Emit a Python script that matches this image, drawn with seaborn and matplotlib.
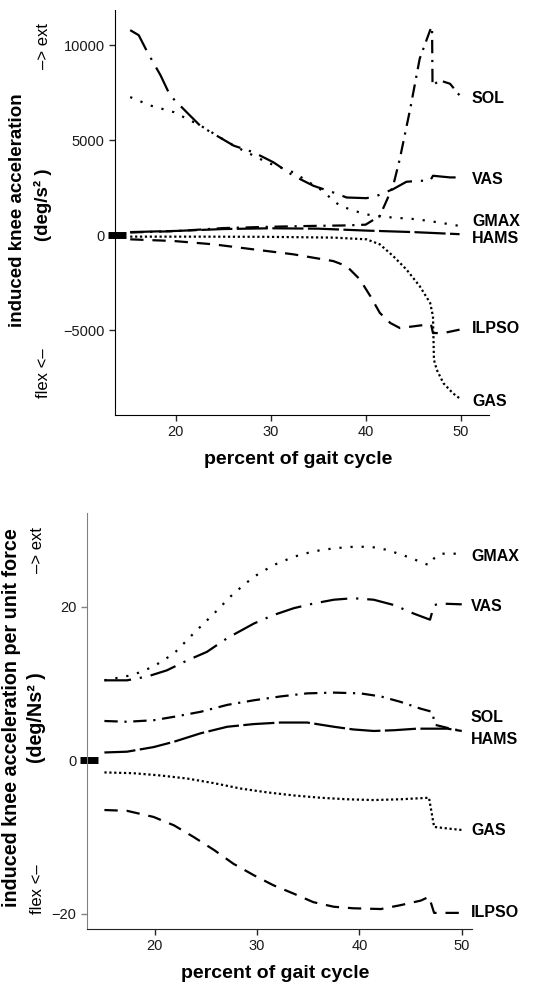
import matplotlib
matplotlib.use("Agg")
import matplotlib.pyplot as plt
import matplotlib.transforms as mtransforms
import seaborn as sns

# ---- data: induced knee acceleration (top) ----
muscles = ['SOL', 'VAS', 'GMAX', 'HAMS', 'ILPSO', 'GAS']

top_x = {
    'VAS': [15.2, 16.1, 17.0, 18.4, 19.4, 21.2, 22.6, 24.3, 26.1, 28.2, 30.3, 32.4, 34.5, 36.6,
            38.0, 40.1, 41.2, 42.9, 44.3, 45.7, 46.8, 47.1, 47.8, 48.9, 49.9],
    'GMAX': [15.2, 17.3, 19.8, 22.6, 26.1, 29.6, 32.4, 35.2, 37.3, 39.4, 40.8, 42.9, 45.4, 47.8, 49.9],
    'HAMS': [15.2, 20.0, 25.0, 30.0, 35.0, 40.0, 45.0, 49.9],
    'SOL': [15.2, 20.0, 25.0, 30.0, 35.0, 38.0, 40.0, 41.5, 42.9, 43.6, 44.7, 45.7, 46.8, 47.0,
            47.05, 47.8, 48.9, 49.9],
    'ILPSO': [15.2, 19.8, 24.0, 28.2, 32.4, 36.6, 38.0, 39.4, 40.5, 41.5, 42.6, 43.6, 45.0, 46.4,
              46.9, 47.1, 48.2, 49.9],
    'GAS': [15.2, 22.6, 29.6, 36.6, 40.1, 41.5, 42.9, 44.3, 45.7, 46.8, 47.1, 47.2, 47.5, 48.2,
            49.2, 49.9],
}
top_acc = {
    'VAS': [10790, 10525, 9645, 8413, 7357, 6450, 5750, 5245, 4717, 4365, 3837, 3133, 2605, 2253,
            1989, 1954, 2077, 2429, 2816, 2869, 2869, 3133, 3098, 3045, 3045],
    'GMAX': [7270, 6830, 6477, 5773, 4717, 3837, 3309, 2429, 1549, 1197, 1021, 933, 845, 669, 493],
    'HAMS': [170, 230, 330, 370, 350, 250, 170, 60],
    'SOL': [150, 220, 380, 450, 500, 520, 560, 1020, 2600, 4010, 6650, 9290, 10790, 10960,
            7880, 8150, 7970, 7360],
    'ILPSO': [-211, -300, -475, -740, -1000, -1355, -1620, -2320, -3200, -4080, -4610, -4875,
              -4790, -4700, -4700, -5140, -5140, -4960],
    'GAS': [-70, -70, -80, -120, -211, -475, -1090, -1795, -2675, -3555, -4260, -6547, -7075,
            -7780, -8307, -8570],
}
top_label_y = {'SOL': 7180, 'VAS': 2957, 'GMAX': 720, 'HAMS': -176, 'ILPSO': -4875, 'GAS': -8747}

# ---- data: induced knee acceleration per unit force (bottom) ----
bot_x = {
    'GMAX': [15.1, 17.9, 19.9, 21.9, 23.8, 25.8, 27.7, 29.7, 31.6, 33.6, 35.5, 37.5, 39.4, 41.1,
             42.7, 44.7, 46.8, 47.3, 47.9, 50.0],
    'VAS': [15.1, 17.3, 19.3, 21.2, 23.2, 25.1, 27.1, 29.7, 31.6, 33.6, 35.5, 37.5, 39.4, 41.4,
            43.4, 45.3, 46.9, 47.3, 47.9, 50.0],
    'SOL': [15.1, 17.3, 19.9, 21.9, 24.5, 27.1, 29.7, 32.3, 34.9, 37.5, 40.1, 42.1, 44.0, 46.0,
            47.1, 47.4, 48.6, 50.0],
    'HAMS': [15.1, 17.3, 19.9, 21.9, 24.5, 27.1, 29.7, 32.3, 34.9, 37.5, 39.4, 41.4, 43.4, 45.6,
             47.3, 48.6, 50.0],
    'GAS': [15.1, 17.9, 20.6, 23.2, 25.8, 28.4, 31.0, 33.6, 36.2, 38.8, 41.4, 44.0, 46.8, 47.3,
            48.6, 50.0],
    'ILPSO': [15.1, 17.3, 19.9, 21.9, 23.8, 25.8, 27.7, 29.7, 31.6, 33.6, 35.5, 37.5, 39.4, 42.1,
              44.0, 46.0, 46.8, 47.3, 50.0],
}
bot_acc = {
    'GMAX': [10.4, 11.1, 12.2, 13.9, 16.5, 19.1, 21.7, 23.9, 25.4, 26.5, 27.2, 27.6, 27.8, 27.8,
             27.4, 26.5, 25.4, 26.3, 26.9, 26.9],
    'VAS': [10.4, 10.4, 10.9, 11.7, 13.0, 14.1, 15.9, 17.8, 18.9, 19.8, 20.4, 20.9, 21.1, 20.9,
            20.2, 19.1, 18.3, 20.2, 20.4, 20.3],
    'SOL': [5.1, 5.0, 5.2, 5.65, 6.3, 7.2, 7.8, 8.3, 8.7, 8.8, 8.7, 8.3, 7.6, 6.7, 6.3, 4.6, 4.2, 3.8],
    'HAMS': [1.0, 1.1, 1.7, 2.4, 3.5, 4.35, 4.7, 4.9, 4.9, 4.35, 4.0, 3.8, 3.9, 4.1, 4.1, 4.1, 3.8],
    'GAS': [-1.6, -1.7, -2.0, -2.4, -3.0, -3.7, -4.2, -4.6, -4.9, -5.1, -5.2, -5.1, -4.9, -8.7,
            -8.9, -9.1],
    'ILPSO': [-6.5, -6.6, -7.4, -8.5, -10.0, -11.7, -13.5, -15.0, -16.3, -17.4, -18.5, -19.1,
              -19.3, -19.4, -18.9, -18.3, -17.8, -19.9, -19.9],
}
bot_label_y = {'GMAX': 26.5, 'VAS': 20.0, 'SOL': 5.6, 'HAMS': 2.7, 'GAS': -9.2, 'ILPSO': -19.9}

line_styles = {
    'SOL': (0, (6, 3, 1, 3)),
    'VAS': (0, (12, 4, 1, 4)),
    'GMAX': (0, (1, 4)),
    'HAMS': (0, (14, 2)),
    'ILPSO': (0, (6, 4)),
    'GAS': (0, (1, 1.2)),
}

sns.set_style('ticks')
plt.rcParams['font.family'] = ['Liberation Sans', 'DejaVu Sans']
plt.rcParams['text.color'] = 'black'

fig = plt.figure(figsize=(5.35, 9.86), dpi=100)
W, H = 535, 986
ax1 = fig.add_axes([115 / W, 1 - 415 / H, (489 - 115) / W, (415 - 10) / H])
ax2 = fig.add_axes([87 / W, 1 - 929 / H, (472 - 87) / W, (929 - 513) / H])


def draw_panel(ax, xs, ys, label_y, label_x):
    for m in muscles:
        sns.lineplot(x=xs[m], y=ys[m], ax=ax, color='black', lw=1.6,
                     linestyle=line_styles[m], estimator=None, sort=False)
        ax.text(label_x, label_y[m], m, ha='left', va='center', fontsize=11.5,
                fontweight='bold', color='black', clip_on=False)
    sns.despine(ax=ax)
    ax.tick_params(length=4, width=1, labelsize=10.5, labelcolor='#1a1a1a')
    # thick zero marker on the y axis
    trans = mtransforms.blended_transform_factory(ax.transAxes, ax.transData)
    ax.plot([0.005], [0], transform=trans, marker='_', ms=13, mew=5,
            color='black', clip_on=False)


draw_panel(ax1, top_x, top_acc, top_label_y, 51.2)
ax1.set_xlim(13.6, 53.0)
ax1.set_ylim(-9450, 11850)
ax1.set_xticks([20, 30, 40, 50])
ax1.set_yticks([-5000, 0, 5000, 10000])
for s in ['left', 'bottom']:
    ax1.spines[s].set_color('black')

draw_panel(ax2, bot_x, bot_acc, bot_label_y, 50.9)
ax2.set_xlim(13.4, 51.0)
ax2.set_ylim(-22.0, 32.2)
ax2.set_xticks([20, 30, 40, 50])
ax2.set_yticks([-20, 0, 20])
ax2.spines['left'].set_color('#808080')
ax2.spines['bottom'].set_color('#222222')
ax2.tick_params(axis='y', color='#808080')

# axis titles
bold = dict(fontweight='bold', ha='center', va='center', color='black')
norm = dict(fontsize=12, ha='center', va='center', rotation=90, color='black')
fig.text(298 / W, 1 - 460 / H, 'percent of gait cycle', fontsize=14, **bold)
fig.text(275 / W, 1 - 974 / H, 'percent of gait cycle', fontsize=14, **bold)

fig.text(18 / W, 1 - 210 / H, 'induced knee acceleration', rotation=90, fontsize=13.5, **bold)
fig.text(43 / W, 1 - 205 / H, '(deg/s² )', rotation=90, fontsize=13.5, **bold)
fig.text(43 / W, 1 - 46 / H, '–> ext', **norm)
fig.text(43 / W, 1 - 373 / H, 'flex <–', **norm)

fig.text(12 / W, 1 - 718 / H, 'induced knee acceleration per unit force', rotation=90,
         fontsize=14.2, **bold)
fig.text(37 / W, 1 - 718 / H, '(deg/Ns² )', rotation=90, fontsize=14.2, **bold)
fig.text(38 / W, 1 - 550 / H, '–> ext', **norm)
fig.text(38 / W, 1 - 889 / H, 'flex <–', **norm)

fig.savefig('out.png', dpi=100)
